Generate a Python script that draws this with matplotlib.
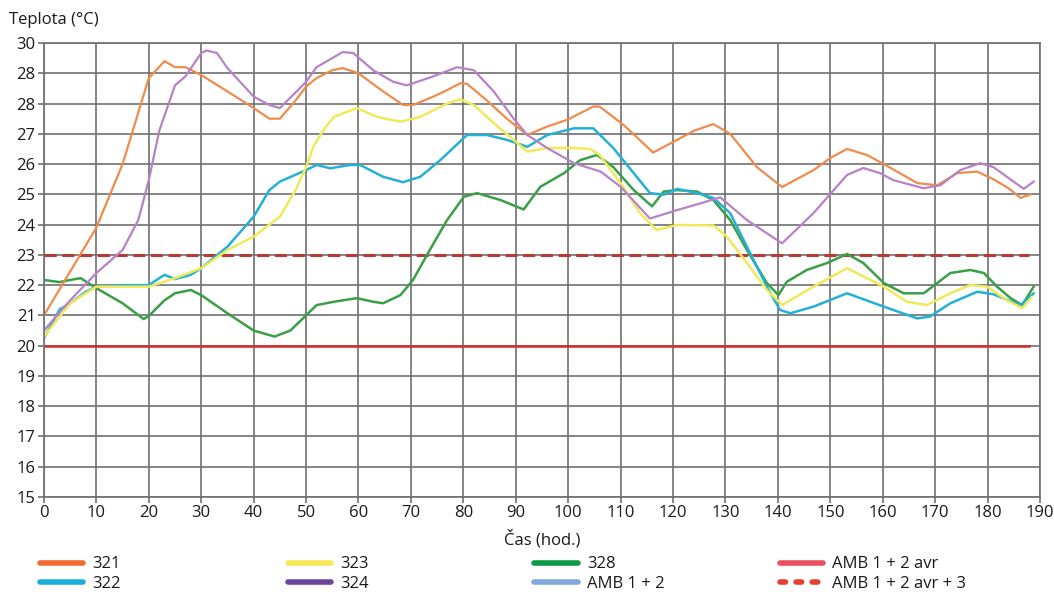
import matplotlib
matplotlib.use("Agg")
import matplotlib.pyplot as plt
from matplotlib.lines import Line2D

plt.rcParams['font.family'] = ['Open Sans', 'DejaVu Sans']

# Data (hours, deg C)
x_321 = [0, 5, 10, 15, 20, 23, 25, 27, 30, 35, 40, 43, 45, 48, 50, 52, 55, 57, 60, 64.7, 68.5, 70.4,
         74.3, 77, 79.4, 80.7, 84.5, 88.3, 92.2, 96, 99.8, 104.8, 106, 110.5, 113, 116.2, 120.8, 124,
         127.7, 130.9, 136, 140.8, 146.8, 150, 153.2, 157, 160.2, 166.6, 170.4, 174.2, 178, 181.1,
         184, 186.3, 188.2]
y_321 = [21.0, 22.45, 23.9, 26.0, 28.84, 29.4, 29.2, 29.2, 28.94, 28.4, 27.85, 27.5, 27.5, 28.1, 28.56,
         28.84, 29.1, 29.17, 29.0, 28.4, 27.95, 27.95, 28.23, 28.45, 28.67, 28.65, 28.1, 27.5, 26.96,
         27.24, 27.46, 27.9, 27.9, 27.3, 26.9, 26.38, 26.8, 27.1, 27.32, 27.0, 25.9, 25.24, 25.8, 26.2,
         26.5, 26.3, 26.0, 25.37, 25.3, 25.7, 25.75, 25.5, 25.2, 24.88, 25.0]

x_322 = [0, 3, 5, 8, 10, 15, 20, 22, 23, 25, 28, 30, 35, 40, 43, 45, 50, 52, 54.6, 58.4, 60.3, 64.7,
         68.5, 71.8, 75.6, 80.7, 84.5, 88.3, 92.2, 96, 101.1, 104.8, 108.6, 112.5, 115.6, 118.2, 120.8,
         124.6, 127.7, 130.9, 134.1, 137.9, 140.4, 142.4, 146.8, 153.2, 160.2, 166.6, 169, 172.9, 178,
         181.1, 186.3, 188.8]
y_322 = [20.25, 21.2, 21.4, 21.78, 21.95, 22.0, 22.0, 22.23, 22.34, 22.2, 22.34, 22.56, 23.27, 24.26,
         25.14, 25.42, 25.8, 25.97, 25.86, 25.97, 25.97, 25.58, 25.4, 25.58, 26.13, 26.96, 26.96, 26.8,
         26.57, 26.96, 27.18, 27.18, 26.53, 25.7, 25.04, 24.99, 25.18, 25.04, 24.88, 24.38, 23.27, 21.95,
         21.18, 21.07, 21.29, 21.73, 21.29, 20.9, 20.96, 21.4, 21.78, 21.7, 21.34, 21.73]

x_323 = [0, 5, 10, 15, 20, 25, 30, 35, 40, 45, 48, 50, 51.4, 53.2, 55.3, 59.7, 63.5, 68, 71.8, 76.9,
         79.4, 82, 85.8, 89.6, 92.2, 96, 101.1, 104.2, 106, 110.5, 113.7, 116.9, 120.8, 127.7, 130.3,
         134.1, 137.9, 140.8, 146.8, 153.2, 160.2, 164.6, 168.4, 172.9, 176.7, 179.9, 183.7, 186.6, 188.4]
y_323 = [20.3, 21.4, 21.95, 21.95, 21.95, 22.23, 22.56, 23.16, 23.6, 24.26, 25.14, 25.9, 26.57, 27.1,
         27.56, 27.85, 27.56, 27.4, 27.56, 28.0, 28.14, 27.95, 27.35, 26.8, 26.41, 26.53, 26.53, 26.5,
         26.3, 25.25, 24.38, 23.82, 23.99, 23.97, 23.6, 22.73, 21.84, 21.34, 21.95, 22.56, 21.95, 21.45,
         21.34, 21.73, 22.0, 21.95, 21.5, 21.24, 21.6]

x_324 = [0, 5, 10, 15, 18, 20, 22, 25, 27, 30, 31, 33, 35, 40, 43, 45, 48.2, 50, 52, 57, 59, 62.8,
         66.6, 69.2, 74.3, 78.8, 82, 85.8, 89.6, 92.2, 96, 101.1, 106.2, 110, 115.6, 120.8, 125.2, 129,
         134.1, 140.8, 146.8, 153.2, 156.3, 159.5, 162, 167.8, 171, 174.8, 178.6, 181.1, 186.9, 188.8]
y_324 = [20.5, 21.5, 22.4, 23.16, 24.15, 25.47, 27.1, 28.6, 28.9, 29.67, 29.75, 29.67, 29.17, 28.23,
         27.95, 27.85, 28.4, 28.72, 29.2, 29.7, 29.67, 29.1, 28.72, 28.6, 28.9, 29.2, 29.1, 28.4, 27.5,
         26.96, 26.53, 26.03, 25.75, 25.25, 24.2, 24.48, 24.7, 24.9, 24.15, 23.38, 24.38, 25.64, 25.87,
         25.7, 25.47, 25.2, 25.3, 25.8, 26.03, 25.9, 25.18, 25.42]

x_328 = [0, 3, 5, 7, 10, 15, 19, 20, 23, 25, 28, 30, 35, 40, 44, 47, 50, 52, 55.3, 59.7, 62.8, 64.7,
         68, 70.4, 73.6, 76.9, 80.1, 82.6, 87.1, 91.5, 94.7, 99.2, 102.3, 105.5, 108.6, 112.5, 116,
         118.2, 120.8, 124.6, 127.7, 130.9, 134.1, 137.9, 140.1, 141.7, 145.5, 149.4, 153.2, 156.3,
         160.2, 164, 167.8, 170.4, 172.9, 176.7, 179.3, 181.8, 184.4, 186.6, 188.8]
y_328 = [22.17, 22.1, 22.17, 22.23, 21.9, 21.4, 20.88, 20.98, 21.5, 21.73, 21.84, 21.67, 21.07, 20.5,
         20.3, 20.5, 21.0, 21.34, 21.45, 21.57, 21.45, 21.4, 21.67, 22.17, 23.16, 24.15, 24.92, 25.04,
         24.81, 24.5, 25.25, 25.7, 26.13, 26.3, 25.9, 25.14, 24.6, 25.09, 25.14, 25.09, 24.81, 24.15,
         23.16, 22.07, 21.67, 22.11, 22.5, 22.73, 23.03, 22.73, 22.07, 21.73, 21.73, 22.07, 22.4, 22.5,
         22.4, 21.95, 21.57, 21.34, 21.95]

amb_x = [0, 188]
amb_avr = [20, 20]
amb_avr3 = [23, 23]

y_ticks = list(range(15, 31))
y_labels = ['15', '16', '17', '18', '19', '20', '21', '22', '23', '24', '25', '26', '27', '28', '28', '30']
x_ticks = list(range(0, 191, 10))

fig = plt.figure(figsize=(10.54, 5.97), dpi=100)
ax = fig.add_axes([0.0417, 0.1675, 0.945, 0.7605])

ax.plot(amb_x, amb_avr, color='#d42a2a', lw=1.8)
ax.plot(amb_x, amb_avr3, color='#b83a35', lw=2.2, dashes=(4, 1.8))
ax.plot(x_328, y_328, color='#3b9f48', lw=1.8)
ax.plot(x_322, y_322, color='#25b0d6', lw=1.8)
ax.plot(x_323, y_323, color='#f0ea5a', lw=1.8)
ax.plot(x_321, y_321, color='#ee8c4c', lw=1.6)
ax.plot(x_324, y_324, color='#b882c8', lw=1.6)

ax.set_xlim(0, 190)
ax.set_ylim(15, 30)
ax.set_xticks(x_ticks)
ax.set_yticks(y_ticks)
ax.set_yticklabels(y_labels)
ax.grid(True, color='#707070', lw=1.2)
ax.set_axisbelow(True)
for s in ax.spines.values():
    s.set_color('#707070')
    s.set_linewidth(1.2)
ax.tick_params(axis='both', colors='#707070', labelcolor='#1a1a1a', labelsize=12, length=4, width=1.2,
               pad=2)
ax.set_xlabel('Čas (hod.)', fontsize=12, color='#1a1a1a', labelpad=6)
fig.text(0.009, 0.953, 'Teplota (°C)', fontsize=12, color='#1a1a1a', ha='left', va='bottom')

# legend, four columns of two rows
legend_cols = [
    [('321', '#f26b30', '-'), ('322', '#1aaedc', '-')],
    [('323', '#f5ea55', '-'), ('324', '#6a4499', '-')],
    [('328', '#0c9a46', '-'), ('AMB 1 + 2', '#80a8dc', '-')],
    [('AMB 1 + 2 avr', '#e8505f', '-'), ('AMB 1 + 2 avr + 3', '#e84030', '--')],
]
col_x = [0.0375, 0.273, 0.507, 0.740]
for cx, col in zip(col_x, legend_cols):
    handles = []
    for lab, c, ls in col:
        if ls == '--':
            h = Line2D([], [], color=c, lw=4, dashes=(1.0, 1.9), solid_capstyle='round',
                       dash_capstyle='round', label=lab)
        else:
            h = Line2D([], [], color=c, lw=4, solid_capstyle='round', label=lab)
        handles.append(h)
    lg = fig.legend(handles=handles, loc='upper left', bbox_to_anchor=(cx, 0.068), frameon=False,
                    fontsize=12, handlelength=2.6, handletextpad=0.55, labelspacing=0.22,
                    borderpad=0, borderaxespad=0)
    for t in lg.get_texts():
        t.set_color('#1a1a1a')

fig.savefig('out.png', dpi=100)
